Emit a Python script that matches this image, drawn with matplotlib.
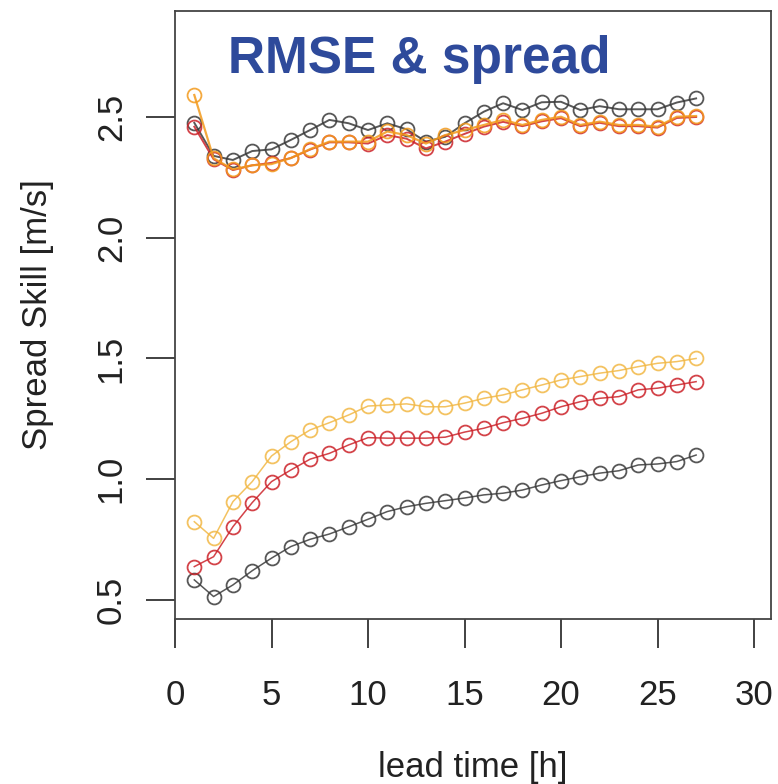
import matplotlib.pyplot as plt

# lead times
lead = list(range(1, 28))

# RMSE (upper group)
rmse_black = [2.476, 2.339, 2.322, 2.359, 2.366, 2.405, 2.446, 2.488, 2.474, 2.446,
              2.474, 2.449, 2.398, 2.418, 2.474, 2.522, 2.557, 2.529, 2.561, 2.563,
              2.529, 2.545, 2.532, 2.532, 2.532, 2.560, 2.577]
rmse_red = [2.460, 2.325, 2.280, 2.300, 2.310, 2.330, 2.365, 2.395, 2.395, 2.390,
            2.425, 2.410, 2.370, 2.398, 2.430, 2.460, 2.480, 2.462, 2.482, 2.495,
            2.462, 2.476, 2.462, 2.462, 2.456, 2.496, 2.500]
rmse_orange = [2.591, 2.329, 2.283, 2.300, 2.305, 2.330, 2.367, 2.398, 2.398, 2.398,
               2.440, 2.425, 2.390, 2.425, 2.446, 2.467, 2.488, 2.467, 2.488, 2.501,
               2.467, 2.481, 2.467, 2.467, 2.460, 2.501, 2.504]

# spread (lower group)
spread_black = [0.583, 0.514, 0.562, 0.621, 0.673, 0.721, 0.751, 0.773, 0.803, 0.834,
                0.866, 0.886, 0.900, 0.911, 0.922, 0.935, 0.942, 0.955, 0.976, 0.994,
                1.010, 1.025, 1.035, 1.059, 1.063, 1.073, 1.100]
spread_red = [0.638, 0.679, 0.803, 0.903, 0.990, 1.038, 1.083, 1.107, 1.142, 1.172,
              1.170, 1.170, 1.170, 1.174, 1.195, 1.211, 1.234, 1.252, 1.273, 1.300,
              1.321, 1.335, 1.342, 1.370, 1.377, 1.390, 1.404]
spread_yellow = [0.824, 0.755, 0.907, 0.990, 1.096, 1.155, 1.204, 1.234, 1.266, 1.303,
                 1.307, 1.312, 1.300, 1.300, 1.315, 1.335, 1.349, 1.370, 1.390, 1.411,
                 1.425, 1.439, 1.450, 1.466, 1.480, 1.487, 1.500]

xticks = [0, 5, 10, 15, 20, 25, 30]
yticks = [0.5, 1.0, 1.5, 2.0, 2.5]

plt.rcParams['font.family'] = ['Liberation Sans', 'DejaVu Sans']

fig = plt.figure(figsize=(7.78, 7.84), dpi=100)
ax = fig.add_axes([175/778, 1-619/784, 596/778, 608/784])

c_black = '#3a3a3a'
c_red = '#cc2229'
c_orange = '#f39a1c'
c_yellow = '#f2b845'

mk = dict(marker='o', markerfacecolor='none', markersize=10, markeredgewidth=1.3)

# spread
ax.plot(lead, spread_black, color=c_black, lw=1.1, markeredgecolor=c_black, alpha=0.85, **mk)
ax.plot(lead, spread_red, color=c_red, lw=1.1, markeredgecolor=c_red, alpha=0.85, **mk)
ax.plot(lead, spread_yellow, color=c_yellow, lw=1.1, markeredgecolor=c_yellow, alpha=0.85, **mk)

# rmse
ax.plot(lead, rmse_black, color=c_black, lw=1.4, markeredgecolor=c_black, alpha=0.85, **mk)
ax.plot(lead, rmse_red, color=c_red, lw=1.4, markeredgecolor=c_red, alpha=0.85, **mk)
ax.plot(lead, rmse_orange, color=c_orange, lw=1.6, markeredgecolor=c_orange, alpha=0.85, **mk)

ax.set_xlim(0, 30.88)
ax.set_ylim(0.421, 2.939)
ax.set_xticks(xticks)
ax.set_yticks(yticks)
ax.set_xticklabels([str(t) for t in xticks])
ax.set_yticklabels(['%.1f' % t for t in yticks], rotation=90, va='center')

for s in ax.spines.values():
    s.set_color('#444444')
    s.set_linewidth(1.3)

ax.tick_params(axis='both', length=21, width=1.3, color='#333333',
               labelsize=25, labelcolor='#222222')
ax.tick_params(axis='x', pad=22)
ax.tick_params(axis='y', pad=13)

ax.set_xlabel('lead time [h]', fontsize=25, color='#222222', labelpad=28)
ax.set_ylabel('Spread Skill [m/s]', fontsize=25, color='#222222', labelpad=29)

fig.text(228/778, 1-73/784, 'RMSE & spread', fontsize=37, fontweight='bold',
         color='#2e4a9b', ha='left', va='baseline')

fig.savefig('out.png', dpi=100)
